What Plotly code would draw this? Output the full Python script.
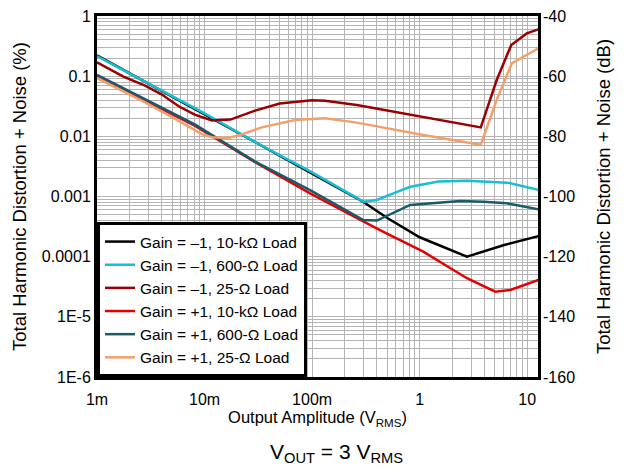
import plotly.graph_objects as go

# output amplitude (V RMS) and THD+N (%)
x_inv_10k = [0.001, 0.003, 0.01, 0.03, 0.1, 0.3, 0.5, 1.0, 2.75, 6.0, 12.7]
y_inv_10k = [0.221, 0.0759, 0.0234, 0.0079, 0.0024, 8.1e-4, 4.4e-4, 2.1e-4, 1.0e-4, 1.55e-4, 2.2e-4]

x_inv_600 = [0.001, 0.003, 0.01, 0.03, 0.1, 0.3, 0.4, 0.6, 0.82, 1.5, 2.75, 6.5, 12.7]
y_inv_600 = [0.216, 0.0759, 0.024, 0.0079, 0.00251, 8.2e-4, 8.75e-4, 1.17e-3, 1.45e-3, 1.78e-3, 1.83e-3, 1.70e-3, 1.29e-3]

x_inv_25 = [0.001, 0.00176, 0.0028, 0.00398, 0.00575, 0.0081, 0.0117, 0.0174, 0.0295, 0.05, 0.1,
            0.132, 0.26, 1.08, 3.7, 5.2, 7.1, 9.9, 12.7]
y_inv_25 = [0.17, 0.098, 0.0695, 0.05, 0.0316, 0.0229, 0.0184, 0.019, 0.0267, 0.0351, 0.0398,
            0.0389, 0.0332, 0.0212, 0.0141, 0.0863, 0.33, 0.513, 0.60]

x_non_10k = [0.001, 0.0028, 0.0081, 0.0295, 0.0957, 0.427, 1.08, 2.75, 5.04, 6.95, 12.7]
y_non_10k = [0.1, 0.0398, 0.0151, 0.00372, 0.00113, 2.75e-4, 1.21e-4, 4.38e-5, 2.62e-5, 2.79e-5, 4.09e-5]

x_non_600 = [0.001, 0.0028, 0.0081, 0.0295, 0.0957, 0.30, 0.40, 0.817, 2.38, 3.93, 6.47, 12.7]
y_non_600 = [0.105, 0.0407, 0.0158, 0.0038, 0.00128, 4.07e-4, 3.98e-4, 7.23e-4, 8.41e-4, 8.2e-4, 7.71e-4, 6.12e-4]

x_non_25 = [0.001, 0.0028, 0.0057, 0.0094, 0.0117, 0.0166, 0.0206, 0.034, 0.0695, 0.132, 0.26,
            1.08, 3.7, 5.2, 7.2, 9.9, 12.7]
y_non_25 = [0.0933, 0.0368, 0.0182, 0.0109, 0.00964, 0.00938, 0.0103, 0.0141, 0.0187, 0.02, 0.0169,
            0.0105, 0.00724, 0.0402, 0.164, 0.225, 0.29]

names = ["Gain = \u20131, 10-k\u03a9 Load", "Gain = \u20131, 600-\u03a9 Load", "Gain = \u20131, 25-\u03a9 Load",
         "Gain = +1, 10-k\u03a9 Load", "Gain = +1, 600-\u03a9 Load", "Gain = +1, 25-\u03a9 Load"]
colors = ["#000000", "#17bfd6", "#9b0000", "#e60000", "#175b6d", "#f2a06c"]

x_tickvals = [0.001, 0.01, 0.1, 1, 10]
x_ticktext = ["1m", "10m", "100m", "1", "10"]
y_tickvals = [1, 0.1, 0.01, 0.001, 0.0001, 1e-5, 1e-6]
y_ticktext = ["1", "0.1", "0.01", "0.001", "0.0001", "1E-5", "1E-6"]
db_ticks = [-40, -60, -80, -100, -120, -140, -160]
db_text = ["-40", "-60", "-80", "-100", "-120", "-140", "-160"]

FONT = "Liberation Sans, Arial"

fig = go.Figure()
series = [(x_inv_10k, y_inv_10k), (x_inv_600, y_inv_600), (x_inv_25, y_inv_25),
          (x_non_10k, y_non_10k), (x_non_600, y_non_600), (x_non_25, y_non_25)]
for (xs, ys), n, c in zip(series, names, colors):
    fig.add_trace(go.Scatter(x=xs, y=ys, name=n, mode="lines", line=dict(color=c, width=2.5)))

# dummy trace so the dB axis is drawn
fig.add_trace(go.Scatter(x=[0.001], y=[-160], yaxis="y2", mode="markers",
                         marker=dict(opacity=0), showlegend=False, hoverinfo="skip"))

minor_x = [k * 10.0 ** d for d in range(-3, 2) for k in range(2, 10)]
minor_y = [k * 10.0 ** d for d in range(-6, 0) for k in range(2, 10)]
grid = "#b4b4b4"

# page body adds an 8px offset, so the figure is 8px smaller each way
fig.update_layout(
    width=618, height=464,
    margin=dict(l=89, r=88, t=8, b=95),
    plot_bgcolor="white", paper_bgcolor="white",
    font=dict(family=FONT, size=16, color="black"),
    xaxis=dict(type="log", range=[-3, 1.1], tickvals=x_tickvals, ticktext=x_ticktext,
               showgrid=True, gridcolor=grid, gridwidth=1,
               minor=dict(tickvals=minor_x, showgrid=True, gridcolor=grid, gridwidth=1),
               showline=True, linecolor="black", linewidth=3, mirror=True, ticks="",
               ticklabelstandoff=6, automargin=False, ticklabeloverflow="allow",
               title=dict(text="Output Amplitude (V<sub>RMS</sub>)", standoff=4,
                          font=dict(size=16.5)),
               zeroline=False),
    yaxis=dict(type="log", range=[-6, 0], tickvals=y_tickvals, ticktext=y_ticktext,
               showgrid=True, gridcolor=grid, gridwidth=1,
               minor=dict(tickvals=minor_y, showgrid=True, gridcolor=grid, gridwidth=1),
               showline=True, linecolor="black", linewidth=3, mirror=True, ticks="",
               automargin=False, ticklabeloverflow="allow",
               title=dict(text="Total Harmonic Distortion + Noise (%)", standoff=11,
                          font=dict(size=18.5)),
               zeroline=False),
    yaxis2=dict(overlaying="y", side="right", range=[-160, -40], tickvals=db_ticks,
                ticktext=db_text, showgrid=False, zeroline=False, ticks="",
                ticklabelstandoff=4, automargin=False, ticklabeloverflow="allow",
                title=dict(text="Total Harmonic Distortion + Noise (dB)", standoff=22,
                           font=dict(size=18.5))),
    legend=dict(x=0, y=0, xanchor="left", yanchor="bottom", bgcolor="white",
                bordercolor="black", borderwidth=3, font=dict(size=15.5),
                tracegroupgap=0, itemwidth=30),
    showlegend=True,
)

fig.add_annotation(text="V<sub>OUT</sub> = 3 V<sub>RMS</sub>", xref="paper", yref="paper",
                   x=0.544, y=-0.21, xanchor="center", yanchor="middle", showarrow=False,
                   font=dict(size=21))

fig.write_html("out.html")
